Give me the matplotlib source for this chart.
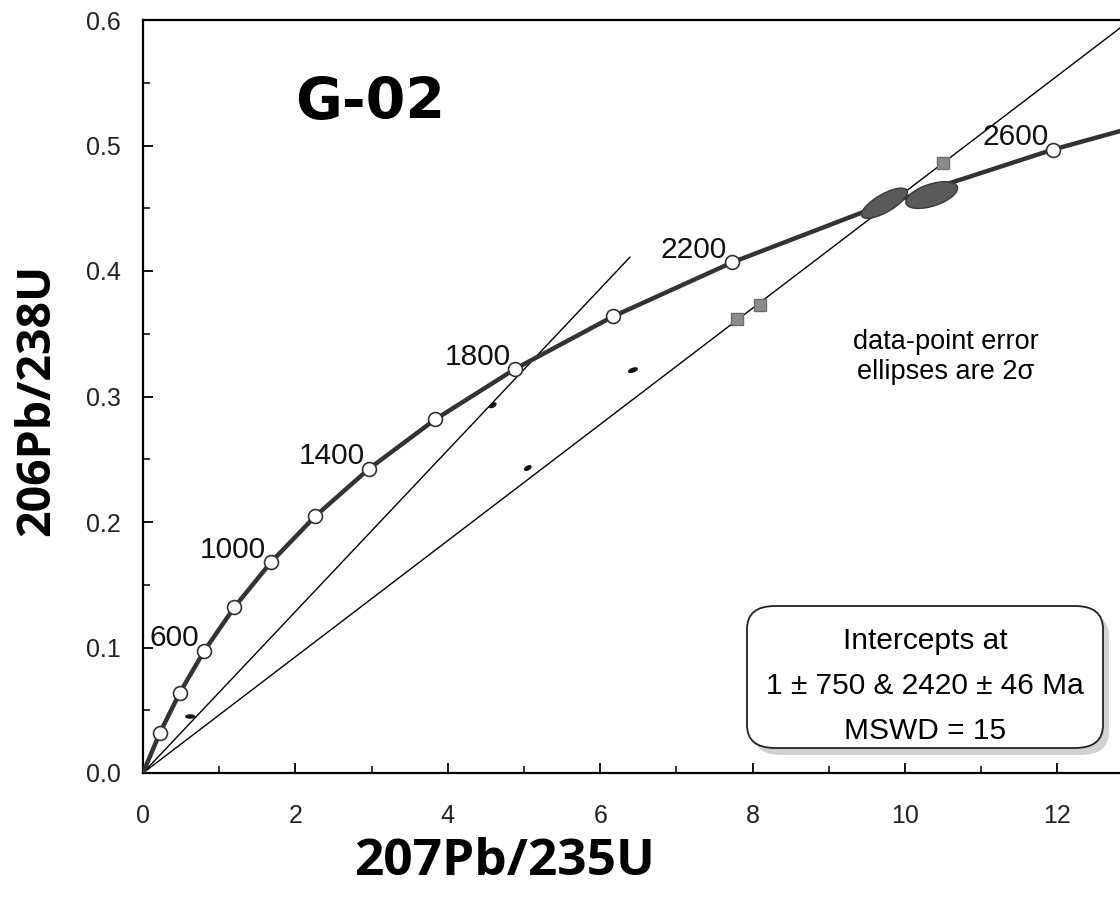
import matplotlib
matplotlib.use('Agg')
import matplotlib.pyplot as plt
import matplotlib.transforms as mtransforms
from matplotlib.patches import Ellipse, FancyBboxPatch
from matplotlib.ticker import MultipleLocator, FormatStrFormatter

# concordia points (age in Ma)
conc_age = [0, 200, 400, 600, 800, 1000, 1200, 1400, 1600, 1800, 2000, 2200, 2400, 2600, 2800]
conc_x = [0.0, 0.218, 0.483, 0.806, 1.199, 1.677, 2.260, 2.970, 3.834, 4.887, 6.169, 7.730, 9.630, 11.945, 14.763]
conc_y = [0.0, 0.0315, 0.0640, 0.0975, 0.1321, 0.1678, 0.2046, 0.2426, 0.2817, 0.3221, 0.3638, 0.4068, 0.4511, 0.4968, 0.5440]
labelled_ages = [600, 1000, 1400, 1800, 2200, 2600]

# discordia lines (start / end points)
disc1_x = [0.0, 13.5]
disc1_y = [0.0, 0.625]
disc2_x = [0.0, 6.39]
disc2_y = [0.0, 0.411]

# grey squares on the long discordia
sq_x = [7.80, 8.10, 10.50]
sq_y = [0.362, 0.373, 0.486]

# error ellipses: centre x, centre y, width px, height px, angle deg
ell_x = [9.73, 10.35, 6.43, 4.59, 5.05, 0.62]
ell_y = [0.454, 0.4605, 0.321, 0.293, 0.243, 0.045]
ell_w = [52, 54, 9, 7, 7, 9]
ell_h = [18, 22, 3.5, 3.5, 3.5, 3]
ell_ang = [30, 18, 20, 30, 30, 0]

fig = plt.figure(figsize=(11.2, 9.18), dpi=100)
W, H = 1120, 918
x1 = 13.5
ax = fig.add_axes([143 / W, (918 - 773) / H, x1 * 76.2 / W, 753 / H])
ax.set_xlim(0, x1)
ax.set_ylim(0, 0.6)

for s in ['top', 'bottom', 'left', 'right']:
    ax.spines[s].set_linewidth(1.6)

ax.xaxis.set_major_locator(MultipleLocator(2))
ax.xaxis.set_minor_locator(MultipleLocator(1))
ax.yaxis.set_major_locator(MultipleLocator(0.1))
ax.yaxis.set_minor_locator(MultipleLocator(0.05))
ax.yaxis.set_major_formatter(FormatStrFormatter('%.1f'))
ax.tick_params(which='major', direction='in', length=7, width=1.3, labelsize=18,
               labelcolor='#222222', labelfontfamily='Liberation Sans')
ax.tick_params(which='minor', direction='in', length=5, width=1.1)
ax.tick_params(axis='x', which='major', pad=22)
ax.tick_params(axis='y', which='major', pad=16)

# discordia lines
ax.plot(disc1_x, disc1_y, color='black', lw=1.0, zorder=2)
ax.plot(disc2_x, disc2_y, color='black', lw=1.0, zorder=2)

# concordia curve
ax.plot(conc_x, conc_y, color='#333333', lw=3.2, zorder=3, solid_capstyle='round')
ax.plot(conc_x[1:], conc_y[1:], 'o', ms=10, mfc='white', mec='#333333', mew=1.2, zorder=4)

for a, x, y in zip(conc_age, conc_x, conc_y):
    if a in labelled_ages:
        ax.annotate(str(a), (x, y), xytext=(-3.5, 3), textcoords='offset points',
                    ha='right', va='baseline', fontsize=21.5, family='Liberation Sans',
                    color='#111111', zorder=5)

# error ellipses drawn in pixel units at data positions
for x, y, w, h, a in zip(ell_x, ell_y, ell_w, ell_h, ell_ang):
    tr = mtransforms.Affine2D() + mtransforms.ScaledTranslation(x, y, ax.transData)
    big = w > 20
    e = Ellipse((0, 0), w, h, angle=a, transform=tr,
                facecolor='#5a5a5a' if big else '#111111',
                edgecolor='#3a3a3a' if big else '#111111', lw=1.0, zorder=6)
    ax.add_patch(e)

ax.plot(sq_x, sq_y, 's', ms=9, mfc='#8c8c8c', mec='#6f6f6f', mew=1.0, zorder=7)

# title and notes
fig.text(370 / W, 1 - 104 / H, 'G-02', ha='center', va='center', fontsize=41,
         fontweight='bold', family='DejaVu Sans')
fig.text(946 / W, 1 - 357 / H, 'data-point error\nellipses are 2\u03c3', ha='center',
         va='center', fontsize=19.5, family='Liberation Sans', linespacing=1.2)

# intercept box with shadow
bx0, by0, bx1, by1 = 747, 606, 1103, 748
shadow = FancyBboxPatch(((bx0 + 6) / W, 1 - (by1 + 7) / H), (bx1 - bx0) / W, (by1 - by0) / H,
                        boxstyle='round,pad=0,rounding_size=0.025', transform=fig.transFigure,
                        facecolor='#999999', edgecolor='none', alpha=0.45, zorder=8)
fig.add_artist(shadow)
box = FancyBboxPatch((bx0 / W, 1 - by1 / H), (bx1 - bx0) / W, (by1 - by0) / H,
                     boxstyle='round,pad=0,rounding_size=0.025', transform=fig.transFigure,
                     facecolor='white', edgecolor='#222222', lw=1.3, zorder=9)
fig.add_artist(box)
box_lines = ['Intercepts at', '1 \u00b1 750 & 2420 \u00b1 46 Ma', 'MSWD = 15']
for i, t in enumerate(box_lines):
    fig.text(925 / W, 1 - (641 + 45 * i) / H, t, ha='center', va='center', fontsize=21.5,
             family='Liberation Sans', zorder=10)

# axis labels
fig.text(505 / W, 1 - 862 / H, '207Pb/235U', ha='center', va='center', fontsize=37,
         fontweight='bold', family='Open Sans')
fig.text(37 / W, 1 - 400 / H, '206Pb/238U', ha='center', va='center', fontsize=33.5,
         fontweight='bold', family='Open Sans', rotation=90)

fig.savefig('out.png', dpi=100)
